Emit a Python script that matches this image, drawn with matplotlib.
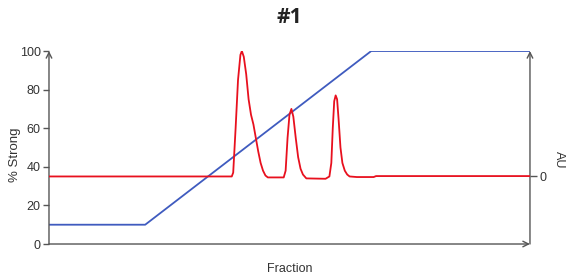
import matplotlib.pyplot as plt

# gradient (% Strong) vs fraction
grad_x = [0, 20, 67, 100]
grad_y = [10, 10, 100, 100]

# UV trace (AU), 0 sits at 35 % Strong on the left scale
uv_x = [0, 38.0, 38.3, 38.8, 39.3, 39.8, 40.1, 40.5, 41.0, 41.5, 42.0, 42.5,
        43.0, 43.5, 44.0, 44.5, 45.0, 45.5, 48.8, 49.2, 49.6, 50.0, 50.4,
        50.8, 51.3, 51.8, 52.3, 52.8, 53.5, 57.5, 58.3, 58.7, 59.0, 59.3,
        59.6, 59.9, 60.2, 60.6, 61.0, 61.5, 62.0, 62.5, 64.0, 67.5, 68.0, 100]
uv_y = [0, 0, 2, 25, 50, 63, 65, 62, 53, 40, 32, 27,
        20, 13, 7, 3, 0.5, -0.5, -0.5, 3, 20, 32, 35,
        31, 20, 10, 4, 1, -1, -1.2, 0, 7, 25, 39,
        42, 40, 30, 15, 7, 3, 1, 0, -0.3, -0.3, 0.2, 0.2]

left_ticks = [0, 20, 40, 60, 80, 100]

axis_col = '#555555'
text_col = '#333333'
plt.rcParams['font.family'] = ['Liberation Sans', 'DejaVu Sans']

fig = plt.figure(figsize=(5.67, 2.75), dpi=100)
ax = fig.add_axes([0.0864, 0.1127, 0.8483, 0.7018])
ax2 = ax.twinx()

ax.plot(grad_x, grad_y, color='#3f5bbf', lw=1.3, zorder=2)
ax2.plot(uv_x, uv_y, color='#e8101e', lw=1.3, zorder=3)

ax.set_xlim(0, 100)
ax.set_ylim(0, 100)
ax2.set_ylim(-35, 65)

for a in (ax, ax2):
    for s in a.spines.values():
        s.set_visible(False)

ax.set_xticks([])
ax.set_yticks(left_ticks)
ax.tick_params(axis='y', colors=axis_col, labelcolor=text_col, labelsize=9,
               length=4, width=1, pad=2)
ax2.set_yticks([0])
ax2.tick_params(axis='y', colors=axis_col, labelcolor=text_col, labelsize=9,
                length=5, width=1, pad=2)

arrow = dict(arrowstyle='->', color=axis_col, lw=1, shrinkA=0, shrinkB=0,
             mutation_scale=10)
ax.annotate('', xy=(0, 1), xytext=(0, 0), xycoords='axes fraction',
            arrowprops=arrow)
ax.annotate('', xy=(1, 0), xytext=(0, 0), xycoords='axes fraction',
            arrowprops=arrow)
ax.annotate('', xy=(1, 1), xytext=(1, 0), xycoords='axes fraction',
            arrowprops=arrow)

ax.set_xlabel('Fraction', fontsize=9, color=text_col, labelpad=14)
fig.text(15 / 567, 1 - 155 / 275, '% Strong', fontsize=9.5, color=text_col,
         rotation=90, ha='center', va='center')
fig.text(559 / 567, 1 - 160 / 275, 'AU', fontsize=9, color=text_col,
         rotation=270, ha='center', va='center')

fig.text(0.51, 0.935, '#1', fontsize=15, fontweight='bold', ha='center',
         va='center', color='#222222', family='Open Sans')

fig.savefig('out.png', dpi=100)
